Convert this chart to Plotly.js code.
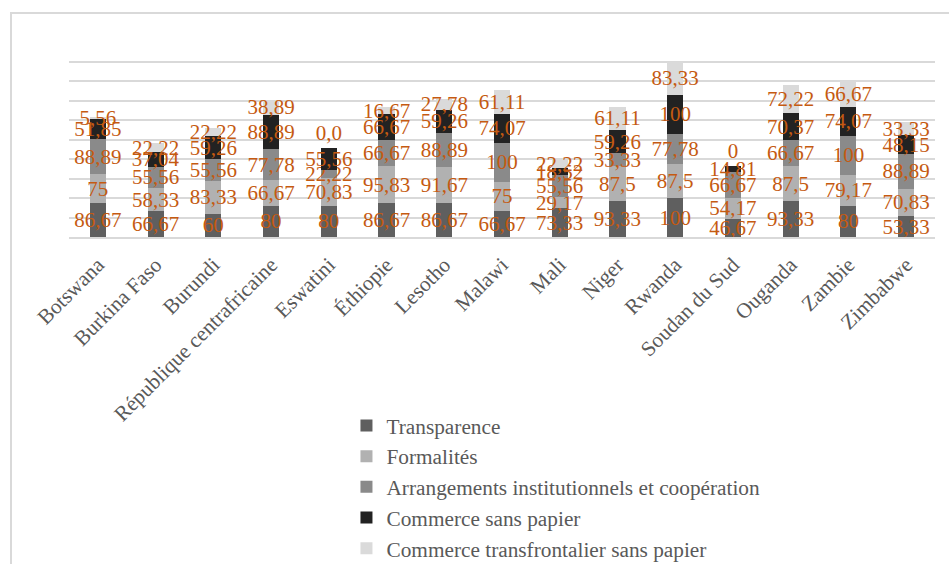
<!DOCTYPE html>
<html>
<head>
<meta charset="utf-8">
<script src="https://cdn.plot.ly/plotly-3.0.1.min.js"></script>
<style>
  html, body { margin: 0; padding: 0; background: #ffffff; }
  #frame { position: absolute; left: 10px; top: 12px; width: 960px; height: 580px;
           border-left: 2px solid #d9d9d9; border-top: 2px solid #d9d9d9; }
  #chart { position: absolute; left: 0; top: 0; width: 949px; height: 564px; }
</style>
</head>
<body>
<div id="frame"></div>
<div id="chart"></div>
<script>
const countries = ["Botswana", "Burkina Faso", "Burundi", "République centrafricaine", "Eswatini",
  "Éthiopie", "Lesotho", "Malawi", "Mali", "Niger", "Rwanda", "Soudan du Sud", "Ouganda", "Zambie", "Zimbabwe"];

const transparence   = [86.67, 66.67, 60, 80, 80, 86.67, 86.67, 66.67, 73.33, 93.33, 100, 46.67, 93.33, 80, 53.33];
const formalites     = [75, 58.33, 83.33, 66.67, 70.83, 95.83, 91.67, 75, 29.17, 87.5, 87.5, 54.17, 87.5, 79.17, 70.83];
const arrangements   = [88.89, 55.56, 55.56, 77.78, 22.22, 66.67, 88.89, 100, 55.56, 33.33, 77.78, 66.67, 66.67, 100, 88.89];
const sansPapier     = [51.85, 37.04, 59.26, 88.89, 55.56, 66.67, 59.26, 74.07, 18.52, 59.26, 100, 14.81, 70.37, 74.07, 48.15];
const transfrontalier = [5.56, 22.22, 22.22, 38.89, 0, 16.67, 27.78, 61.11, 22.22, 61.11, 83.33, 0, 72.22, 66.67, 33.33];

const seriesNames = ["Transparence", "Formalités", "Arrangements institutionnels et coopération",
  "Commerce sans papier", "Commerce transfrontalier sans papier"];
const seriesValues = [transparence, formalites, arrangements, sansPapier, transfrontalier];
const seriesColors = ["#5f5f5f", "#b1b1b1", "#8a8a8a", "#222222", "#dadada"];
// label text as printed in the source (Eswatini's zero is shown as "0,0")
const labelOverrides = { "4-4": "0,0" };

const fmt = v => String(v).replace(".", ",");
const SERIF = "Liberation Serif";

const traces = seriesValues.map((vals, s) => ({
  type: "bar",
  name: seriesNames[s],
  x: countries,
  y: vals,
  legendgroup: "g" + s,
  marker: { color: seriesColors[s], line: { width: 0 } },
  text: vals.map((v, i) => labelOverrides[s + "-" + i] || fmt(v)),
  textposition: vals.map(v => v === 0 ? "outside" : "inside"),
  insidetextanchor: "middle",
  textangle: 0,
  constraintext: "none",
  cliponaxis: false,
  textfont: { family: SERIF, size: 21, color: "#c55a11" },
  insidetextfont: { family: SERIF, size: 21, color: "#c55a11" },
  outsidetextfont: { family: SERIF, size: 21, color: "#c55a11" },
  hoverinfo: "skip"
}));

const layout = {
  width: 949,
  height: 564,
  margin: { l: 69, r: 14, t: 41.5, b: 327.3, pad: 0, autoexpand: false },
  paper_bgcolor: "rgba(0,0,0,0)",
  plot_bgcolor: "rgba(0,0,0,0)",
  barmode: "stack",
  bargap: 0.72,
  font: { family: SERIF, color: "#595959", size: 21 },
  xaxis: {
    type: "category",
    automargin: false,
    tickangle: -45,
    ticklabelstandoff: 5,
    tickfont: { family: SERIF, size: 21.3, color: "#595959" },
    showline: true,
    linecolor: "#d9d9d9",
    linewidth: 2,
    ticks: "",
    showgrid: false,
    fixedrange: true
  },
  yaxis: {
    range: [0, 500],
    dtick: 50,
    automargin: false,
    showticklabels: false,
    showgrid: true,
    gridcolor: "#d9d9d9",
    gridwidth: 2,
    zeroline: false,
    showline: false,
    ticks: "",
    fixedrange: true
  },
  showlegend: true,
  legend: {
    orientation: "v",
    x: 0.3204,
    xanchor: "left",
    y: -0.862,
    yanchor: "top",
    traceorder: "grouped",
    tracegroupgap: 0,
    font: { family: SERIF, size: 21.3, color: "#595959" },
    bgcolor: "rgba(0,0,0,0)",
    itemclick: false
  }
};

Plotly.newPlot("chart", traces, layout, { displayModeBar: false, staticPlot: true });
</script>
</body>
</html>
